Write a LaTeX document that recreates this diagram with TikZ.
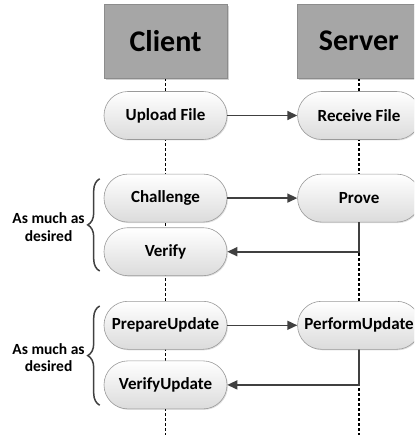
\documentclass[tikz,border=0pt]{standalone}
\usepackage{fontspec}
\setmainfont{Carlito}
\usetikzlibrary{arrows.meta,calc,positioning,shadows,backgrounds,decorations.pathreplacing}
\definecolor{linegray}{HTML}{404040}
\definecolor{edgegray}{HTML}{9A9A9A}
\tikzset{
  actor/.style={draw=black!45, fill=black!35, rectangle, minimum width=123pt, minimum height=74pt,
    font=\bfseries\fontsize{30}{34}\selectfont,
    drop shadow={shadow xshift=2pt, shadow yshift=-2pt, fill=black, opacity=0.18}},
  action/.style={draw=edgegray, line width=0.6pt, rectangle, rounded corners=23.9pt,
    minimum width=123pt, minimum height=48pt, inner xsep=2pt, top color=white, bottom color=black!14,
    font=\bfseries\fontsize{17}{20}\selectfont,
    drop shadow={shadow xshift=1pt, shadow yshift=-1pt, fill=black, opacity=0.12}},
  msg/.style={-{Triangle[length=10pt,width=9pt]}, line width=1.6pt, draw=linegray},
  lifeline/.style={densely dashed, line width=1.4pt, draw=black},
  repeatbrace/.style={decorate, decoration={brace, amplitude=12pt}, line width=1.5pt, draw=linegray},
  note/.style={font=\bfseries\fontsize{15.5}{17.5}\selectfont, align=center}
}

\begin{document}
\begin{tikzpicture}[x=1pt, y=-1pt]
  \useasboundingbox (0,0) rectangle (414,435);
  \clip (0,0) rectangle (414,435);
  \coordinate (floor) at (0,435);

  % the two parties
  \node[actor] (client) at (165.5,41) {Client};
  \node[actor, right=70pt of client] (server) {Server};

  % client side steps
  \node[action, below=13pt of client] (upload) {Upload File};
  \node[action, below=34pt of upload] (challenge) {Challenge};
  \node[action, below=5pt of challenge] (verify) {Verify};
  \node[action, below=25pt of verify] (prepare) {PrepareUpdate};
  \node[action, below=11pt of prepare] (verifyupd) {VerifyUpdate};

  % server side steps
  \node[action, right=70pt of upload] (receive) {Receive File};
  \node[action, right=70pt of challenge] (prove) {Prove};
  \node[action, right=70pt of prepare] (perform) {PerformUpdate};

  % lifelines behind everything
  \begin{scope}[on background layer]
    \draw[lifeline] (client.south) -- (client.south |- floor);
    \draw[lifeline] (server.south) -- (server.south |- floor);
  \end{scope}

  % messages
  \draw[msg] (upload) -- (receive);
  \draw[msg] (challenge) -- (prove);
  \draw[msg] (prove.south) |- (verify.east);
  \draw[msg] (prepare) -- (perform);
  \draw[msg] (perform.south) |- (verifyupd.east);

  % repeated rounds
  \draw[repeatbrace] ($(verify.south west)+(-4,-5)$) -- ($(challenge.north west)+(-4,5)$)
    node[note, midway, left=11pt, yshift=-2pt] {As much as\\desired};
  \draw[repeatbrace] ($(verifyupd.south west)+(-4,-4)$) -- ($(prepare.north west)+(-4,5)$)
    node[note, midway, left=11pt, yshift=-2pt] {As much as\\desired};
\end{tikzpicture}
\end{document}
